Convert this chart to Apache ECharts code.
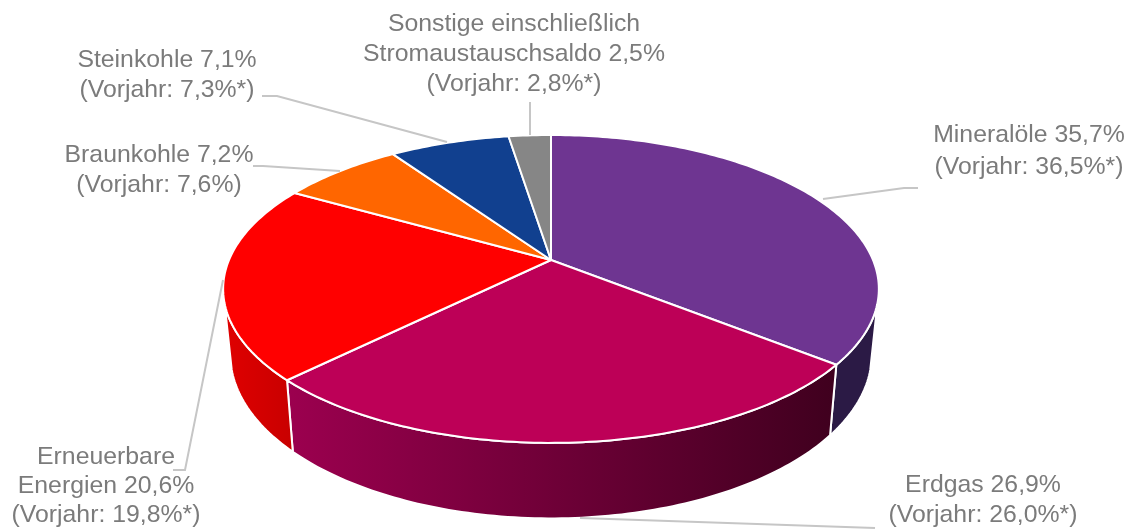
<!DOCTYPE html>
<html>
<head>
<meta charset="utf-8">
<style>html,body{margin:0;padding:0;background:#fff}#c{width:1134px;height:531px;filter:blur(0.5px)}</style>
<script src="https://cdn.jsdelivr.net/npm/echarts@6/dist/echarts.min.js"></script>
</head>
<body>
<div id="c"></div>
<script>
// ---- data ----
const categories = ['Mineralöle', 'Erdgas', 'Erneuerbare Energien', 'Braunkohle', 'Steinkohle', 'Sonstige einschließlich Stromaustauschsaldo'];
const shares = [35.7, 26.9, 20.6, 7.2, 7.1, 2.5];
const labelTexts = [
  'Mineralöle 35,7%\n(Vorjahr: 36,5%*)',
  'Erdgas 26,9%\n(Vorjahr: 26,0%*)',
  'Erneuerbare\nEnergien 20,6%\n(Vorjahr: 19,8%*)',
  'Braunkohle 7,2%\n(Vorjahr: 7,6%)',
  'Steinkohle 7,1%\n(Vorjahr: 7,3%*)',
  'Sonstige einschließlich\nStromaustauschsaldo 2,5%\n(Vorjahr: 2,8%*)'
];

// ---- styling and layout ----
const topColors = ['#6e3591', '#bd0057', '#ff0000', '#ff6600', '#11408f', '#868686'];
const sideFills = [
  '#2b1a45',
  ['#9c004f', '#3f001e'],
  ['#e00000', '#c80000'],
  '#b34700', '#0b2c64', '#5e5e5e'
];
const labelCenters = [[1029, 151], [983, 500], [106, 486.5], [159, 170], [167, 75], [514, 54.5]];
const labelLineHeights = [32, 30, 29, 30, 30, 30];
const leaders = [
  [[823, 199], [904, 188], [918, 188]],
  [[580, 518], [875, 528]],
  [[223, 280], [185, 470], [173, 470]],
  [[340, 171], [263, 166], [253, 166]],
  [[447, 142], [277, 96], [262, 96]],
  [[530, 135], [530, 102]]
];
const TEXT = '#7b7b7b', LINE = '#c6c6c6';
const FONT = '"Liberation Sans", Arial, sans-serif';

// perspective view of the pie disc
const view = { cx: 551, cy: 260, a: 322, b: 148.5, k: 0.188,
  sx: 0.978, sy: 1.063, dy: 64, visFrom: 106, visTo: 254 };

function topPoint(deg) {
  const t = deg * Math.PI / 180, x = Math.sin(t), y = -Math.cos(t), w = 1 - view.k * y;
  return [view.cx + view.a * x / w, view.cy + view.b * y / w];
}
function basePoint(deg) {
  const p = topPoint(deg);
  return [view.cx + view.sx * (p[0] - view.cx), view.cy + view.dy + view.sy * (p[1] - view.cy)];
}
function arc(fn, from, to) {
  const pts = [], n = Math.max(2, Math.ceil(Math.abs(to - from)));
  for (let i = 0; i <= n; i++) pts.push(fn(from + (to - from) * i / n));
  return pts;
}
const total = shares.reduce((s, v) => s + v, 0);
const startAngles = [];
shares.reduce((s, v, i) => { startAngles[i] = s; return s + v / total * 360; }, 0);
function sliceSpan(i) {
  return [startAngles[i], startAngles[i] + shares[i] / total * 360];
}
function fillOf(f) {
  if (Array.isArray(f)) {
    return new echarts.graphic.LinearGradient(0, 0, 1, 0, [
      { offset: 0, color: f[0] }, { offset: 1, color: f[1] }
    ]);
  }
  return f;
}

const seriesData = categories.map((name, i) => ({ name, value: shares[i] }));

const chart = echarts.init(document.getElementById('c'), null, { renderer: 'canvas' });
chart.setOption({
  animation: false,
  backgroundColor: '#ffffff',
  tooltip: { show: false },
  series: [
    {
      type: 'custom', name: 'Seiten', coordinateSystem: 'none', z: 1, silent: true,
      data: seriesData,
      renderItem(params) {
        const s = sliceSpan(params.dataIndex);
        const from = Math.max(s[0], view.visFrom), to = Math.min(s[1], view.visTo);
        if (to <= from) return { type: 'group', children: [] };
        const pts = arc(topPoint, from, to).concat(arc(basePoint, to, from));
        return {
          type: 'polygon',
          shape: { points: pts },
          style: { fill: fillOf(sideFills[params.dataIndex]), stroke: '#ffffff', lineWidth: 2, lineJoin: 'round' }
        };
      }
    },
    {
      type: 'custom', name: 'Deckel', coordinateSystem: 'none', z: 2, silent: true,
      data: seriesData,
      renderItem(params) {
        const i = params.dataIndex, s = sliceSpan(i);
        const pts = [[view.cx, view.cy]].concat(arc(topPoint, s[0], s[1]));
        return {
          type: 'polygon',
          shape: { points: pts },
          style: { fill: topColors[i], stroke: '#ffffff', lineWidth: 2, lineJoin: 'round' }
        };
      }
    },
    {
      type: 'custom', name: 'Beschriftung', coordinateSystem: 'none', z: 3, silent: true,
      data: seriesData,
      renderItem(params) {
        const i = params.dataIndex;
        return {
          type: 'group',
          children: [
            {
              type: 'polyline',
              shape: { points: leaders[i] },
              style: { fill: 'none', stroke: LINE, lineWidth: 2 }
            },
            {
              type: 'text',
              style: {
                text: labelTexts[i], x: labelCenters[i][0], y: labelCenters[i][1],
                align: 'center', verticalAlign: 'middle',
                fill: TEXT, fontSize: 24.8, fontFamily: FONT, lineHeight: labelLineHeights[i]
              }
            }
          ]
        };
      }
    }
  ]
});
</script>
</body>
</html>
